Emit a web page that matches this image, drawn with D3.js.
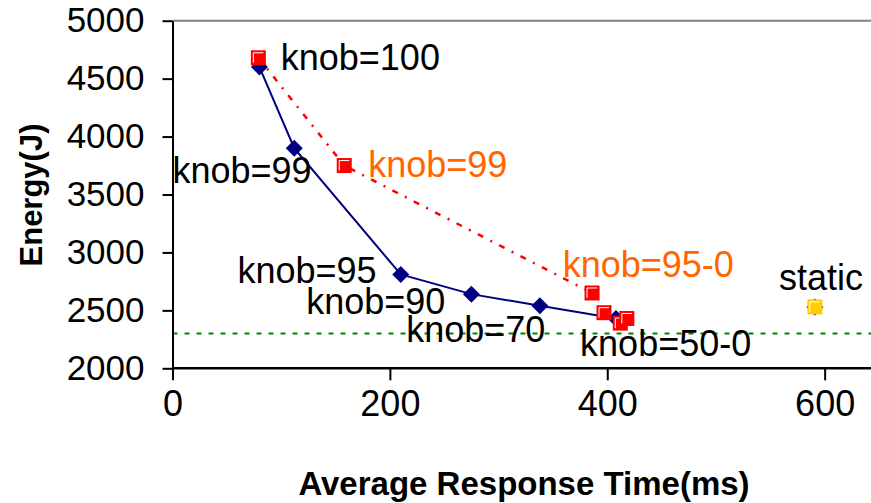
<!DOCTYPE html>
<html>
<head>
<meta charset="utf-8">
<script src="https://cdn.jsdelivr.net/npm/d3@7"></script>
<style>
  body { margin: 0; background: #fff; }
  svg { display: block; font-family: "Liberation Sans", Arial, sans-serif; }
</style>
</head>
<body>
<div id="target"></div>
<script>
var width = 871,
    height = 503;

// knob curve (blue diamonds)
var knobX = [80, 112, 210, 275, 338, 408];
var knobY = [4600, 3900, 2810, 2640, 2540, 2430];

// second run (red squares, dotted)
var runX = [79, 158, 386, 397, 412, 418];
var runY = [4680, 3750, 2650, 2480, 2390, 2430];

// static point
var staticX = [591];
var staticY = [2530];

// horizontal reference line
var refEnergy = 2300;

var xTicks = [0, 200, 400, 600];
var yTicks = [2000, 2500, 3000, 3500, 4000, 4500, 5000];

// annotations: text, x, y (data units), colour
var labelText = ['knob=100', 'knob=99', 'knob=95', 'knob=90', 'knob=70', 'knob=50-0', 'static', 'knob=99', 'knob=95-0'];
var labelX = [99.6, 0, 59.8, 123, 215, 375, 558, 180, 359];
var labelY = [4575, 3599, 2734, 2469, 2230, 2106, 2676, 3654, 2785];
var labelColor = ['#000', '#000', '#000', '#000', '#000', '#000', '#000', '#ff6600', '#ff6600'];

var x = d3.scaleLinear().domain([0, 650]).range([172.5, 879]);
var y = d3.scaleLinear().domain([2000, 5000]).range([368.3, 20.7]);

var svg = d3.select('#target').append('svg')
    .attr('width', width)
    .attr('height', height);

// plot area top border
svg.append('line')
    .attr('x1', x(0)).attr('x2', width)
    .attr('y1', y(5000)).attr('y2', y(5000))
    .attr('stroke', '#808080').attr('stroke-width', 2);

// reference line
svg.append('line')
    .attr('x1', x(0)).attr('x2', width)
    .attr('y1', y(refEnergy)).attr('y2', y(refEnergy))
    .attr('stroke', '#008000').attr('stroke-width', 2)
    .attr('stroke-dasharray', '5,7');

// axes
var xAxis = svg.append('g')
    .attr('transform', 'translate(0,' + y(2000) + ')')
    .call(d3.axisBottom(x).tickValues(xTicks).tickFormat(d3.format('d'))
        .tickSize(12).tickSizeOuter(0).tickPadding(10));
xAxis.select('.domain').attr('stroke-width', 2.5).attr('d', 'M' + x(0) + ',0H' + width);
xAxis.selectAll('.tick line').attr('stroke-width', 2);
xAxis.selectAll('.tick text')
    .attr('font-size', 36).attr('fill', '#000')
    .attr('font-family', '"Liberation Sans", Arial, sans-serif');

var yAxis = svg.append('g')
    .attr('transform', 'translate(' + x(0) + ',0)')
    .call(d3.axisLeft(y).tickValues(yTicks).tickFormat(d3.format('d'))
        .tickSize(10).tickSizeOuter(0).tickPadding(18));
yAxis.select('.domain').attr('stroke-width', 2);
yAxis.selectAll('.tick line').attr('stroke-width', 2);
yAxis.selectAll('.tick text')
    .attr('font-size', 35).attr('fill', '#000')
    .attr('font-family', '"Liberation Sans", Arial, sans-serif');

// axis titles
svg.append('text')
    .attr('x', 524).attr('y', 495)
    .attr('text-anchor', 'middle')
    .attr('font-size', 33).attr('font-weight', 'bold')
    .text('Average Response Time(ms)');

svg.append('text')
    .attr('transform', 'translate(42,195) rotate(-90)')
    .attr('text-anchor', 'middle')
    .attr('font-size', 31).attr('font-weight', 'bold')
    .text('Energy(J)');

var knob = knobX.map(function (d, i) { return {x: d, y: knobY[i]}; });
var run = runX.map(function (d, i) { return {x: d, y: runY[i]}; });
var stat = staticX.map(function (d, i) { return {x: d, y: staticY[i]}; });

var line = d3.line()
    .x(function (d) { return x(d.x); })
    .y(function (d) { return y(d.y); });

// blue line + diamonds
svg.append('path')
    .datum(knob)
    .attr('d', line)
    .attr('fill', 'none')
    .attr('stroke', '#000080')
    .attr('stroke-width', 2);

var diamond = 'M0,-8.5L8.5,0L0,8.5L-8.5,0Z';
svg.selectAll('.dia')
    .data(knob.concat(stat))
    .enter().append('path')
    .attr('class', 'dia')
    .attr('d', diamond)
    .attr('transform', function (d) { return 'translate(' + x(d.x) + ',' + y(d.y) + ')'; })
    .attr('fill', '#000080');

// red dotted line + squares
svg.append('path')
    .datum(run)
    .attr('d', line)
    .attr('fill', 'none')
    .attr('stroke', '#ff0000')
    .attr('stroke-width', 2.5)
    .attr('stroke-dasharray', '6,8,2,8');

function squares(cls, data, fill) {
    var g = svg.selectAll('.' + cls)
        .data(data)
        .enter().append('g')
        .attr('class', cls)
        .attr('transform', function (d) { return 'translate(' + x(d.x) + ',' + y(d.y) + ')'; });
    g.append('rect')
        .attr('x', -7.5).attr('y', -7.5)
        .attr('width', 15).attr('height', 15)
        .attr('fill', fill);
    g.append('path')
        .attr('d', 'M-5,5V-5H5')
        .attr('fill', 'none')
        .attr('stroke', '#fff')
        .attr('stroke-width', 1);
}
squares('sq', run, '#ff0000');
squares('st', stat, '#ffcc00');

// annotations
svg.selectAll('.lab')
    .data(labelText)
    .enter().append('text')
    .attr('class', 'lab')
    .attr('x', function (d, i) { return x(labelX[i]); })
    .attr('y', function (d, i) { return y(labelY[i]); })
    .attr('font-size', 36)
    .attr('fill', function (d, i) { return labelColor[i]; })
    .text(function (d) { return d; });
</script>
</body>
</html>
